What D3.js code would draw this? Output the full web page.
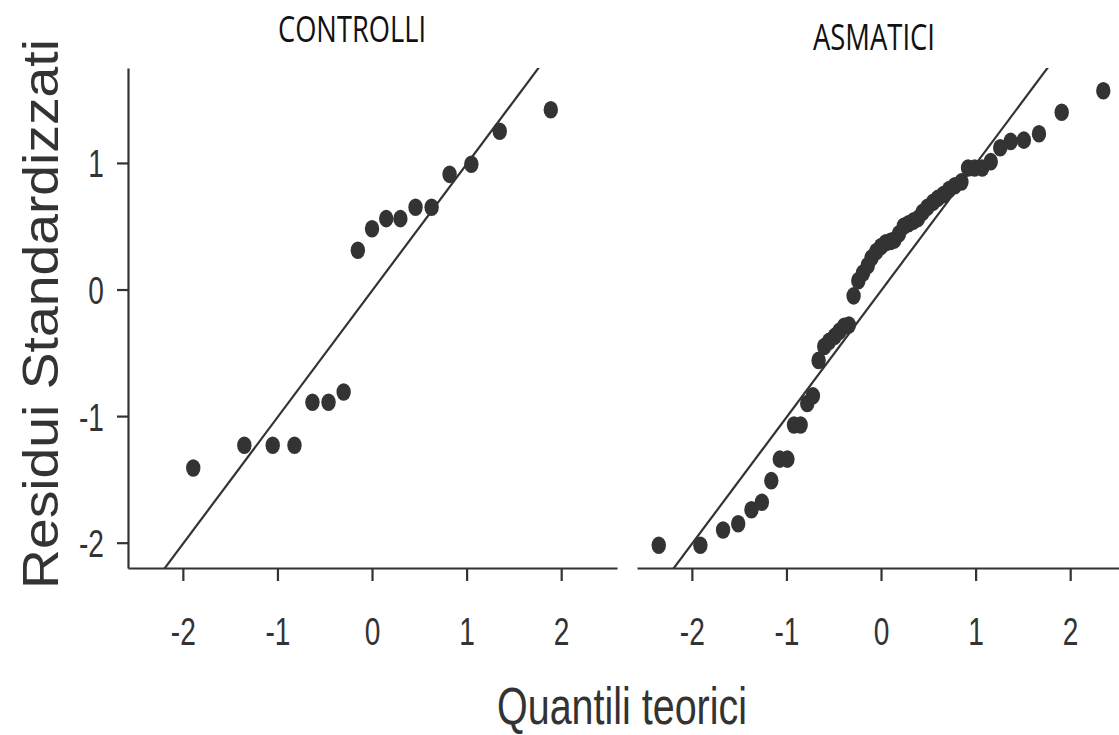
<!DOCTYPE html>
<html>
<head>
<meta charset="utf-8">
<script src="https://cdn.jsdelivr.net/npm/d3@7"></script>
<style>
  html, body { margin: 0; padding: 0; background: #fff; }
  svg { display: block; }
</style>
</head>
<body>
<svg id="chart" width="1119" height="735"></svg>
<script>
// Panel titles
const panelTitles = ["CONTROLLI", "ASMATICI"];

// Theoretical normal quantiles and sorted standardized residuals, per group
const controlliQuantiles = [-1.89, -1.35, -1.05, -0.82, -0.63, -0.46, -0.30, -0.15, 0,
  0.15, 0.30, 0.46, 0.63, 0.82, 1.05, 1.35, 1.89];
const controlliResiduals = [-1.41, -1.23, -1.23, -1.23, -0.89, -0.89, -0.81, 0.31, 0.48,
  0.56, 0.56, 0.65, 0.65, 0.91, 0.99, 1.25, 1.42];

const asmaticiQuantiles = [-2.35, -1.91, -1.67, -1.51, -1.37, -1.26, -1.16, -1.07, -0.99,
  -0.92, -0.85, -0.78, -0.72, -0.66, -0.60, -0.55, -0.49, -0.44, -0.39, -0.34, -0.29,
  -0.24, -0.19, -0.14, -0.10, -0.05, 0, 0.05, 0.10, 0.14, 0.19, 0.24, 0.29, 0.34, 0.39,
  0.44, 0.49, 0.55, 0.60, 0.66, 0.72, 0.78, 0.85, 0.92, 0.99, 1.07, 1.16, 1.26, 1.37,
  1.51, 1.67, 1.91, 2.35];
const asmaticiResiduals = [-2.02, -2.02, -1.90, -1.85, -1.74, -1.68, -1.51, -1.34, -1.34,
  -1.07, -1.07, -0.90, -0.84, -0.56, -0.45, -0.41, -0.37, -0.33, -0.29, -0.28, -0.05,
  0.07, 0.13, 0.19, 0.25, 0.30, 0.34, 0.37, 0.38, 0.39, 0.44, 0.50, 0.52, 0.54, 0.56,
  0.61, 0.65, 0.69, 0.72, 0.75, 0.79, 0.82, 0.85, 0.96, 0.96, 0.96, 1.01, 1.12, 1.17,
  1.18, 1.23, 1.40, 1.57];

// Reference line (slope, intercept) for each panel
const lineSlopes = [1.0, 1.0];
const lineIntercepts = [-0.01, -0.01];

// Axis ticks
const xTicks = [-2, -1, 0, 1, 2];
const yTicks = [-2, -1, 0, 1];

const xLabel = "Quantili teorici";
const yLabel = "Residui Standardizzati";

const panels = [
  { title: panelTitles[0], qx: controlliQuantiles, ry: controlliResiduals, left: 128, titleX: 352, titleY: 42, titleW: 148 },
  { title: panelTitles[1], qx: asmaticiQuantiles, ry: asmaticiResiduals, left: 637, titleX: 874, titleY: 50, titleW: 122 }
];

const svg = d3.select("#chart");
const ink = "#333333";
const panelW = 489;
const plotTop = 68, plotBottom = 568;

const y = d3.scaleLinear().domain([-2.2, 1.75]).range([plotBottom, plotTop]);

panels.forEach((p, i) => {
  const x = d3.scaleLinear().domain([-2.58, 2.59]).range([p.left, p.left + panelW]);
  const g = svg.append("g");

  const clipId = "clip" + i;
  svg.append("clipPath").attr("id", clipId)
    .append("rect")
    .attr("x", p.left).attr("y", plotTop)
    .attr("width", panelW).attr("height", plotBottom - plotTop);

  // reference line
  const [d0, d1] = x.domain();
  const s = lineSlopes[i], b = lineIntercepts[i];
  g.append("line")
    .attr("clip-path", `url(#${clipId})`)
    .attr("x1", x(d0)).attr("y1", y(s * d0 + b))
    .attr("x2", x(d1)).attr("y2", y(s * d1 + b))
    .attr("stroke", ink).attr("stroke-width", 2.2);

  // points
  g.selectAll("ellipse.pt")
    .data(p.qx.map((q, k) => [q, p.ry[k]]))
    .join("ellipse")
    .attr("class", "pt")
    .attr("cx", d => x(d[0]))
    .attr("cy", d => y(d[1]))
    .attr("rx", 7.2).attr("ry", 8.8)
    .attr("fill", ink);

  // x axis
  const xa = g.append("g")
    .attr("transform", `translate(0,${plotBottom})`)
    .call(d3.axisBottom(x).tickValues(xTicks).tickSize(13).tickSizeOuter(0).tickPadding(0));
  xa.select(".domain").attr("stroke", ink).attr("stroke-width", 2.2);
  xa.selectAll(".tick line").attr("stroke", ink).attr("stroke-width", 2.2);
  xa.selectAll(".tick text")
    .attr("y", 0).attr("dy", null)
    .attr("fill", ink)
    .attr("font-family", "Liberation Sans, Arial, sans-serif")
    .attr("font-size", 38)
    .attr("text-anchor", "middle")
    .attr("transform", "translate(0,77) scale(0.74,1)")
    .text(d => d);

  // y axis only on the first panel
  if (i === 0) {
    const ya = g.append("g")
      .attr("transform", `translate(${p.left},0)`)
      .call(d3.axisLeft(y).tickValues(yTicks).tickSize(11).tickSizeOuter(0).tickPadding(0));
    ya.select(".domain").attr("stroke", ink).attr("stroke-width", 2.2);
    ya.selectAll(".tick line").attr("stroke", ink).attr("stroke-width", 2.2);
    ya.selectAll(".tick text")
      .attr("x", 0).attr("dy", null).attr("y", 0)
      .attr("fill", ink)
      .attr("font-family", "Liberation Sans, Arial, sans-serif")
      .attr("font-size", 38)
      .attr("text-anchor", "end")
      .attr("transform", "translate(-24,14) scale(0.74,1)")
      .text(d => d);
  }

  // panel title
  svg.append("text")
    .attr("x", p.titleX).attr("y", p.titleY)
    .attr("text-anchor", "middle")
    .attr("font-family", "Open Sans, sans-serif")
    .attr("font-weight", 500)
    .attr("font-size", 36)
    .attr("textLength", p.titleW)
    .attr("lengthAdjust", "spacingAndGlyphs")
    .attr("fill", "#111")
    .text(p.title);
});

// axis titles
svg.append("text")
  .attr("x", 622).attr("y", 724)
  .attr("text-anchor", "middle")
  .attr("font-family", "Liberation Sans, Arial, sans-serif")
  .attr("font-size", 52)
  .attr("textLength", 250)
  .attr("lengthAdjust", "spacingAndGlyphs")
  .attr("fill", ink)
  .text(xLabel);

svg.append("text")
  .attr("transform", "translate(58,314) rotate(-90)")
  .attr("text-anchor", "middle")
  .attr("font-family", "Liberation Sans, Arial, sans-serif")
  .attr("font-size", 50)
  .attr("textLength", 550)
  .attr("lengthAdjust", "spacingAndGlyphs")
  .attr("fill", ink)
  .text(yLabel);
</script>
</body>
</html>
